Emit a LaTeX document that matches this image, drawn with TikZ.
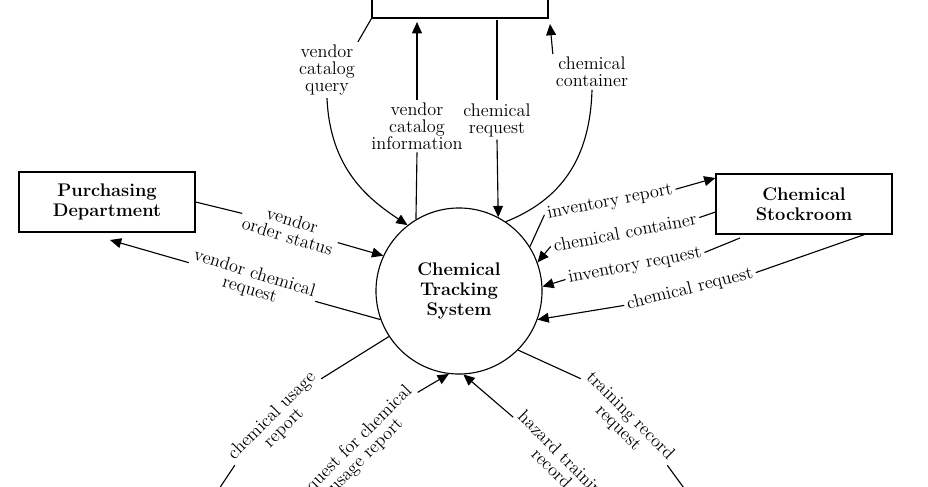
\documentclass[tikz,border=0pt]{standalone}
\usetikzlibrary{positioning,arrows.meta}
\begin{document}
\begin{tikzpicture}[x=0.025cm,y=-0.025cm,
  every node/.style={font=\fontsize{13}{12}\selectfont,align=center,inner sep=2pt},
  ext/.style={draw,thick,minimum width=4.4cm,minimum height=1.5cm,font=\fontsize{13}{14}\selectfont\bfseries},
  flow/.style={thick,-{Triangle[length=8pt,width=7pt]}},
  line/.style={thick}]
\useasboundingbox (0,0) rectangle (928,487);
% entities
\node[draw,circle,thick,minimum size=4.15cm,font=\fontsize{13}{14}\selectfont\bfseries] (cts) at (459,291) {Chemical\\Tracking\\System};
\node[ext] (top) at (460,-12) {};
\node[ext] (purch) at (107,202) {Purchasing\\Department};
\node[ext] (stock) at (804,204) {Chemical\\Stockroom};
% top flows
\node (vcq) at (327,70) {vendor\\catalog\\query};
\draw[line] (top.south west) -- (vcq.north east);
\draw[flow] (vcq.south) .. controls (330,170) and (370,200) .. (cts.128);
\node (vci) at (417,126) {vendor\\catalog\\information};
\draw[line] (cts.121) -- (vci.south);
\draw[flow] (vci.north) -- (417,22);
\node (crq) at (497,120) {chemical\\request};
\draw[line] (497,20) -- (crq.north);
\draw[flow] (crq.south) -- (cts.62);
\node (ccn) at (592,72) {chemical\\container};
\draw[line] (cts.56) .. controls (560,200) and (590,160) .. (ccn.south);
\draw[flow] (ccn.north west) -- (550,24);
% right flows
\node[rotate=11] (ir) at (610,202) {inventory report};
\draw[line] (cts.32) -- (ir.west);
\draw[flow] (ir.east) -- (stock.west|-0,178);
\node[rotate=11] (cc) at (625,232) {chemical container};
\draw[line] (stock.west|-0,212) -- (cc.east);
\draw[flow] (cc.west) -- (cts.20);
\node[rotate=11] (inr) at (635,266) {inventory request};
\draw[line] (740,238) -- (inr.east);
\draw[flow] (inr.west) -- (cts.3);
\node[rotate=14] (cr2) at (690,289) {chemical request};
\draw[line] ([xshift=-20]stock.south east) -- (cr2.east);
\draw[flow] (cr2.west) -- (cts.-20);
% left flows
\node[rotate=-17] (vos) at (290,228) {vendor\\order status};
\draw[line] (purch.east) -- (vos.west);
\draw[flow] (vos.east) -- (cts.155);
\node[rotate=-17] (vcr) at (252,282) {vendor chemical\\request};
\draw[line] (cts.200) -- (vcr.east);
\draw[flow] (vcr.west) -- (110,240);
% bottom flows
\node[rotate=45] (cur) at (278,422) {chemical usage\\report};
\draw[line] (cts.213) -- (cur.east);
\draw[flow] (cur.west) -- (205,510);
\node[rotate=45] (rcu) at (360,450) {request for chemical\\usage report};
\draw[flow] (rcu.east) -- (cts.263);
\node[rotate=-45] (htr) at (558,462) {hazard training\\record};
\draw[flow] (htr.west) -- (cts.273);
\node[rotate=-45] (trr) at (624,422) {training record\\request};
\draw[line] (cts.-45) -- (trr.west);
\draw[line] (trr.east) -- (700,510);
\end{tikzpicture}
\end{document}
